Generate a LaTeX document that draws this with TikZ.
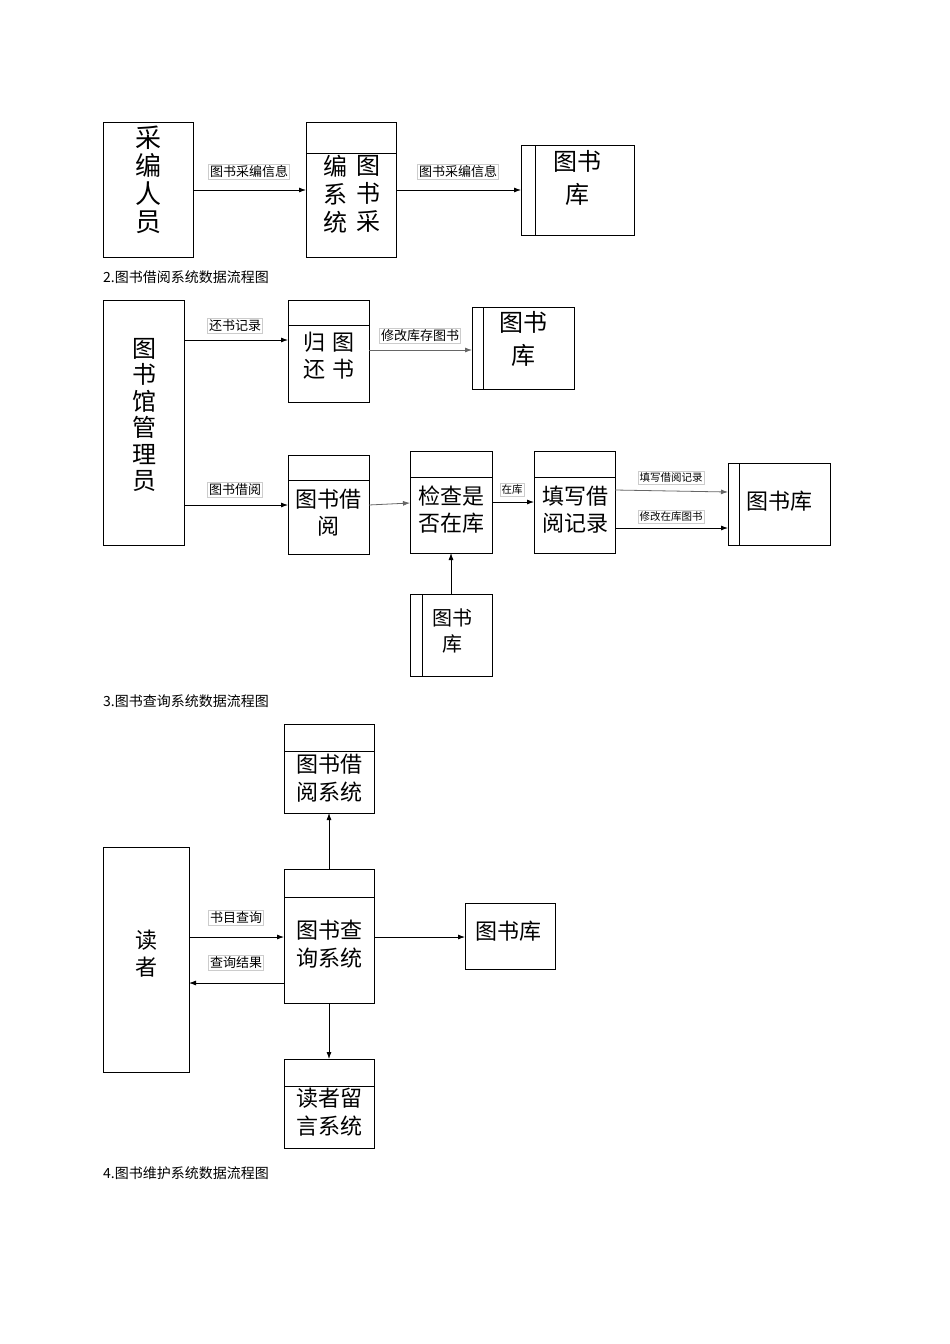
\documentclass[tikz,border=0pt]{standalone}
\usepackage{fontspec}
\setmainfont{Liberation Serif}
\newfontfamily\cjk{Noto Sans CJK SC}
\usetikzlibrary{arrows.meta}
\tikzset{
 bx/.style={draw,line width=0.9pt},
 big/.style={font=\cjk\fontsize{22}{27}\selectfont,align=center,inner sep=0},
 lbl/.style={draw=gray!40,font=\cjk\fontsize{13}{14}\selectfont,fill=white,inner sep=1.5pt},
 sml/.style={draw=gray!40,font=\cjk\fontsize{10.5}{12}\selectfont,fill=white,inner sep=1.5pt},
 captxt/.style={font=\cjk\fontsize{14}{16}\selectfont,anchor=west,inner sep=0},
 arr/.style={-{Latex[length=7pt,width=5pt]},line width=0.8pt},
}
\begin{document}
\begin{tikzpicture}[x=1pt,y=-1pt]
\useasboundingbox (0,0) rectangle (950,1344);
% ---- section 1
\draw[bx] (103,122) rectangle (193,257);
\node[big,font=\cjk\fontsize{26}{28}\selectfont] (a1) at (148,180) {采\\编\\人\\员};
\coordinate (a1r) at (193,190);
\draw[bx] (306,122) rectangle (396,257); \draw[bx] (306,153)--(396,153);
\node[big,font=\cjk\fontsize{24}{28}\selectfont] (b1l) at (335,194) {编\\系\\统};
\node[big,font=\cjk\fontsize{24}{28}\selectfont] (b1r) at (368,194) {图\\书\\采};
\coordinate (b1w) at (306,190); \coordinate (b1e) at (396,190);
\draw[bx] (521,145) rectangle (634,235); \draw[bx] (535,145)--(535,235);
\node[big,font=\cjk\fontsize{24}{33}\selectfont] (c1) at (577,178) {图书\\库};
\coordinate (c1w) at (521,190);
\draw[arr] (a1r)--(b1w); \node[lbl] (l1) at (249,172) {图书采编信息};
\draw[arr] (b1e)--(c1w); \node[lbl] (l2) at (458,172) {图书采编信息};
\node[captxt] (cap2) at (103,277) {2.图书借阅系统数据流程图};
% ---- section 2
\draw[bx] (103,300) rectangle (184,545);
\node[big,font=\cjk\fontsize{24}{26.5}\selectfont] (lib) at (144,415) {图\\书\\馆\\管\\理\\员};
\draw[bx] (288,300) rectangle (369,402); \draw[bx] (288,325)--(369,325);
\node[big] (h1) at (314,356) {归\\还};
\node[big] (h2) at (343,356) {图\\书};
\draw[bx] (472,307) rectangle (574,389); \draw[bx] (483,307)--(483,389);
\node[big,font=\cjk\fontsize{24}{33}\selectfont] (k1) at (523,339) {图书\\库};
\draw[arr] (184,340)--(288,340); \node[lbl] (l3) at (235,326) {还书记录};
\draw[arr,gray!80!black] (369,350)--(472,350); \node[lbl] (l4) at (420,336) {修改库存图书};
\draw[bx] (288,455) rectangle (369,554); \draw[bx] (288,480)--(369,480);
\node[big] (jy) at (328,513) {图书借\\阅};
\draw[bx] (410,451) rectangle (492,553); \draw[bx] (410,477)--(492,477);
\node[big] (jc) at (451,510) {检查是\\否在库};
\draw[bx] (534,451) rectangle (615,553); \draw[bx] (534,477)--(615,477);
\node[big] (tx) at (575,510) {填写借\\阅记录};
\draw[bx] (728,463) rectangle (830,545); \draw[bx] (739,463)--(739,545);
\node[big] (k2) at (779,501) {图书库};
\draw[arr] (184,505)--(288,505); \node[lbl] (l5) at (235,490) {图书借阅};
\draw[arr,gray!80!black] (369,505)--(410,503);
\draw[arr] (492,502)--(534,502); \node[sml] (l6) at (512,490) {在库};
\draw[arr,gray!80!black] (615,490)--(728,492); \node[sml] (l7) at (671,478) {填写借阅记录};
\draw[arr] (615,528)--(728,528); \node[sml] (l8) at (671,517) {修改在库图书};
\draw[bx] (410,594) rectangle (492,676); \draw[bx] (422,594)--(422,676);
\node[big,font=\cjk\fontsize{20}{26}\selectfont] (k3) at (452,631) {图书\\库};
\draw[arr] (451,594)--(451,553);
\node[captxt] (cap3) at (103,701) {3.图书查询系统数据流程图};
% ---- section 3
\draw[bx] (103,847) rectangle (189,1072);
\node[big] (dz) at (146,954) {读\\者};
\draw[bx] (284,869) rectangle (374,1003); \draw[bx] (284,897)--(374,897);
\node[big,font=\cjk\fontsize{22}{28}\selectfont] (cx) at (329,944) {图书查\\询系统};
\draw[bx] (284,724) rectangle (374,813); \draw[bx] (284,751)--(374,751);
\node[big,font=\cjk\fontsize{22}{28}\selectfont] (jyx) at (329,778) {图书借\\阅系统};
\draw[bx] (284,1059) rectangle (374,1148); \draw[bx] (284,1086)--(374,1086);
\node[big,font=\cjk\fontsize{22}{28}\selectfont] (ly) at (329,1112) {读者留\\言系统};
\draw[bx] (465,903) rectangle (555,969);
\node[big] (k4) at (508,931) {图书库};
\draw[arr] (189,937)--(284,937); \node[lbl] (l9) at (236,918) {书目查询};
\draw[arr] (284,983)--(189,983); \node[lbl] (l10) at (236,963) {查询结果};
\draw[arr] (329,869)--(329,813);
\draw[arr] (329,1003)--(329,1059);
\draw[arr] (374,937)--(465,937);
\node[captxt] (cap4) at (103,1173) {4.图书维护系统数据流程图};
\end{tikzpicture}
\end{document}
